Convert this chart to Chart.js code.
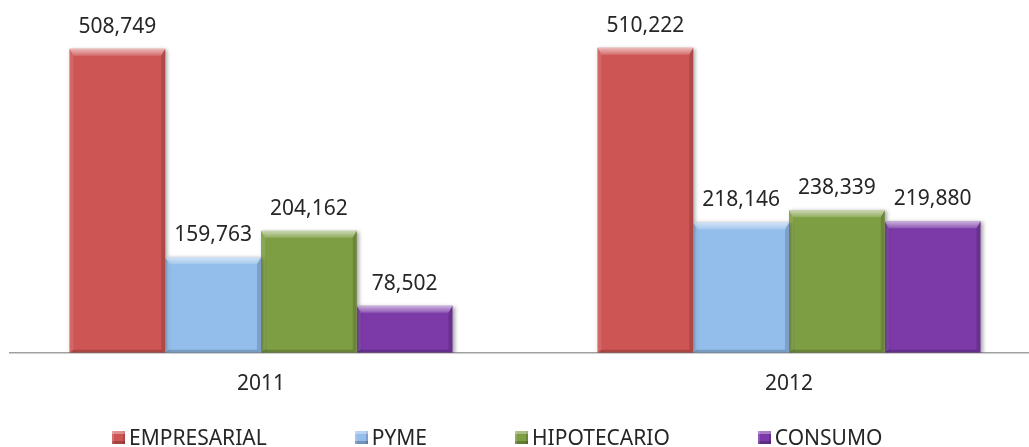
<!DOCTYPE html>
<html>
<head>
<meta charset="utf-8">
<script src="https://cdn.jsdelivr.net/npm/chart.js@4/dist/chart.umd.min.js"></script>
<style>
  html, body { margin: 0; padding: 0; background: #fff; }
  body { width: 1029px; height: 447px; position: relative; overflow: hidden; font-family: 'Noto Sans', sans-serif; }
  #wrap { position: absolute; left: 9px; top: 0; width: 1020px; height: 447px; overflow: hidden; }
  #myChart { position: absolute; left: -12px; top: 0; }
  #legend { position: absolute; left: 112px; top: 424px; height: 26px; display: flex; gap: 88px; color: #262626; font-size: 21px; line-height: 26px; }
  #legend .item { display: flex; align-items: center; white-space: nowrap; }
  #legend .box { width: 13px; height: 13px; margin-right: 4px; box-sizing: border-box;
    box-shadow: inset 0 3px 0 rgba(255,255,255,0.35), inset 2px 0 0 rgba(255,255,255,0.15), inset -2px 0 0 rgba(0,0,0,0.15), inset 0 -3px 0 rgba(0,0,0,0.22); }
</style>
</head>
<body>
<div id="wrap"><canvas id="myChart" width="1056" height="447"></canvas></div>
<div id="legend"></div>
<script>
const years = ['2011', '2012']
const seriesNames = ['EMPRESARIAL', 'PYME', 'HIPOTECARIO', 'CONSUMO']
const empresarial = [508749, 510222]
const pyme = [159763, 218146]
const hipotecario = [204162, 238339]
const consumo = [78502, 219880]
const colors = ['#CD5654', '#93BDEB', '#7E9E43', '#7B3AA7']

const textColor = '#262626'
const font = { family: "'Noto Sans', sans-serif", size: 21 }

// soft drop shadow under each bar
const barShadow = {
  id: 'barShadow',
  beforeDatasetDraw(chart) {
    const ctx = chart.ctx
    ctx.save()
    ctx.shadowColor = 'rgba(0, 0, 0, 0.35)'
    ctx.shadowBlur = 4
    ctx.shadowOffsetX = 2
    ctx.shadowOffsetY = 1
  },
  afterDatasetDraw(chart) {
    chart.ctx.restore()
  },
}

// bevelled edges + value labels
const barBevel = {
  id: 'barBevel',
  afterDatasetsDraw(chart) {
    const ctx = chart.ctx
    chart.data.datasets.forEach((ds, i) => {
      const meta = chart.getDatasetMeta(i)
      meta.data.forEach((bar, j) => {
        const l = bar.x - bar.width / 2
        const r = bar.x + bar.width / 2
        const top = bar.y
        const bottom = bar.base
        const t = Math.min(7, (bottom - top) / 3)
        const s = 4
        const b = Math.min(3, (bottom - top) / 4)

        const poly = (pts, fill) => {
          ctx.beginPath()
          ctx.moveTo(pts[0][0], pts[0][1])
          pts.slice(1).forEach(p => ctx.lineTo(p[0], p[1]))
          ctx.closePath()
          ctx.fillStyle = fill
          ctx.fill()
        }

        ctx.save()
        const g = ctx.createLinearGradient(0, top, 0, top + t)
        g.addColorStop(0, 'rgba(255,255,255,0.6)')
        g.addColorStop(1, 'rgba(255,255,255,0.15)')
        poly([[l, top], [r, top], [r - s, top + t], [l + s, top + t]], g)
        poly([[l, top], [l + s, top + t], [l + s, bottom - b], [l, bottom]], 'rgba(255,255,255,0.1)')
        poly([[r, top], [r, bottom], [r - s, bottom - b], [r - s, top + t]], 'rgba(0,0,0,0.15)')
        poly([[l, bottom], [r, bottom], [r - s, bottom - b], [l + s, bottom - b]], 'rgba(0,0,0,0.18)')

        ctx.fillStyle = textColor
        ctx.font = `${font.size}px ${font.family}`
        ctx.textAlign = 'center'
        ctx.textBaseline = 'middle'
        ctx.fillText(ds.data[j].toLocaleString('en-US'), bar.x, top - 22)
        ctx.restore()
      })
    })
  },
}

const seriesData = [empresarial, pyme, hipotecario, consumo]

const ctx = document.getElementById('myChart').getContext('2d')
const myChart = new Chart(ctx, {
  type: 'bar',
  data: {
    labels: years,
    datasets: seriesNames.map((name, i) => ({
      label: name,
      data: seriesData[i],
      backgroundColor: colors[i],
      borderWidth: 0,
      barPercentage: 1,
      categoryPercentage: 0.7254,
    })),
  },
  options: {
    responsive: false,
    devicePixelRatio: 1,
    animation: false,
    layout: { padding: { top: 24, left: 0, right: 0, bottom: 31 } },
    plugins: {
      legend: { display: false },
      tooltip: { enabled: false },
    },
    scales: {
      x: {
        grid: { display: false, drawTicks: false },
        border: { display: true, color: '#A0A0A0', width: 1.5 },
        ticks: { color: textColor, font: font, padding: 19 },
      },
      y: {
        display: false,
        min: 0,
        max: 550000,
      },
    },
  },
  plugins: [barShadow, barBevel],
})

// legend row built from the datasets
const legend = document.getElementById('legend')
myChart.data.datasets.forEach(ds => {
  const item = document.createElement('div')
  item.className = 'item'
  const box = document.createElement('span')
  box.className = 'box'
  box.style.background = ds.backgroundColor
  item.appendChild(box)
  item.appendChild(document.createTextNode(ds.label))
  legend.appendChild(item)
})
</script>
</body>
</html>
